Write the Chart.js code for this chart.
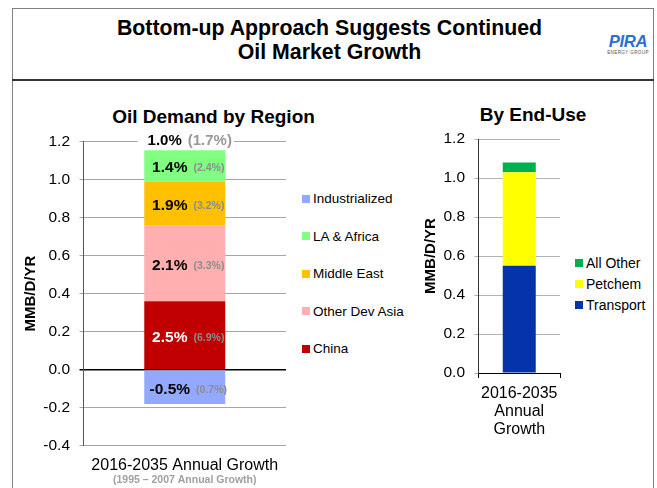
<!DOCTYPE html>
<html>
<head>
<meta charset="utf-8">
<script src="https://cdn.jsdelivr.net/npm/chart.js@4.4.1/dist/chart.umd.min.js"></script>
<style>
  body { margin: 0; background: #fff; font-family: 'Liberation Sans', Arial, sans-serif; width: 657px; height: 488px; overflow: hidden; position: relative; }
  .frame { position: absolute; left: 12px; top: 8px; width: 640px; height: 600px; border: 1px solid #808080; }
  .divider { position: absolute; left: 12px; top: 79px; width: 642px; border-top: 2px solid #333; }
  .mainTitle { position: absolute; left: 0; width: 659px; top: 15.7px; text-align: center; font-weight: bold; font-size: 21.3px; line-height: 24px; color: #000; }
  .txt { position: absolute; white-space: nowrap; transform: translateX(-50%); }
  .logo { position: absolute; left: 628px; top: 33.5px; transform: translateX(-50%); font-weight: bold; font-style: italic; font-size: 16.7px; line-height: 16.7px; color: #2b6fd6; letter-spacing: -0.3px; }
  .logoSub { position: absolute; left: 628px; top: 50px; transform: translateX(-50%); font-size: 4.6px; line-height: 5px; color: #555; letter-spacing: 0.35px; white-space: nowrap; }
  canvas { position: absolute; }
  .legBox { position: absolute; width: 8px; height: 8px; }
  .legTxt { position: absolute; white-space: nowrap; color: #000; }
</style>
</head>
<body>
<div class="frame"></div>
<div class="divider"></div>
<div class="mainTitle">Bottom-up Approach Suggests Continued<br>Oil Market Growth</div>
<div class="logo">PIRA</div>
<div class="logoSub">ENERGY GROUP</div>
<div class="txt" style="left:213.5px;top:106.5px;font-size:19px;line-height:19px;font-weight:bold;">Oil Demand by Region</div>
<div class="txt" style="left:533px;top:104.7px;font-size:19px;line-height:19px;font-weight:bold;">By End-Use</div>
<canvas id="regionChart" width="300" height="408" style="left:0;top:80px;"></canvas>
<canvas id="useChart" width="160" height="370" style="left:410px;top:80px;"></canvas>
<div id="legends"></div>
<script>
// oil demand growth by region, MMB/D per year
var regionCategory = ['2016-2035 Annual Growth'];
var regionNames = ['China', 'Other Dev Asia', 'Middle East', 'LA & Africa', 'Industrialized'];
var regionValues = [0.36, 0.40, 0.23, 0.17, -0.18];
var regionColors = ['#c00000', '#ffafaf', '#ffc000', '#80ff80', '#93a9ff'];
var regionGrowth = ['2.5%', '2.1%', '1.9%', '1.4%', '-0.5%'];
var regionHistGrowth = ['(6.9%)', '(3.3%)', '(3.2%)', '(2.4%)', '(0.7%)'];
var totalGrowth = '1.0%';
var totalHistGrowth = '(1.7%)';
var regionSubLabel = '(1995 \u2013 2007 Annual Growth)';

// same growth split by end use
var useCategory = [['2016-2035', 'Annual', 'Growth']];
var useNames = ['Transport', 'Petchem', 'All Other'];
var useValues = [0.55, 0.48, 0.05];
var useColors = ['#0433aa', '#ffff00', '#00b050'];

var axisTitle = 'MMB/D/YR';
var FONT = "'Liberation Sans', Arial, sans-serif";
Chart.defaults.font.family = FONT;
Chart.defaults.color = '#000';

// draws "main% (hist%)" pair centred on cx
function drawPair(ctx, cx, cy, main, hist, mainColor, mainSize, histSize, histColor, background) {
  ctx.font = 'bold ' + mainSize + 'px ' + FONT;
  var w1 = ctx.measureText(main).width;
  ctx.font = 'bold ' + histSize + 'px ' + FONT;
  var w2 = ctx.measureText(hist).width;
  var gap = 6;
  var x0 = cx - (w1 + gap + w2) / 2;
  if (background) {
    ctx.fillStyle = '#fff';
    ctx.fillRect(x0 - 10, cy - 9, w1 + gap + w2 + 12, 18);
  }
  ctx.fillStyle = mainColor;
  ctx.font = 'bold ' + mainSize + 'px ' + FONT;
  ctx.fillText(main, x0, cy);
  ctx.fillStyle = histColor;
  ctx.font = 'bold ' + histSize + 'px ' + FONT;
  ctx.fillText(hist, x0 + w1 + gap, cy);
}

var segmentLabels = {
  id: 'segmentLabels',
  afterDatasetsDraw: function(chart) {
    var ctx = chart.ctx;
    ctx.save();
    ctx.textBaseline = 'middle';
    ctx.textAlign = 'left';
    var topY = Infinity, barX = 0;
    chart.data.datasets.forEach(function(ds, i) {
      var bar = chart.getDatasetMeta(i).data[0];
      var cy = (bar.y + bar.base) / 2 + 2.5;
      drawPair(ctx, bar.x + 3.5, cy, regionGrowth[i], regionHistGrowth[i], i === 0 ? '#fff' : '#000', 15.5, 10.5, '#8c8c8c', false);
      if (ds.data[0] > 0) topY = Math.min(topY, bar.y);
      barX = bar.x;
    });
    drawPair(ctx, barX + 5, topY - 8, totalGrowth, totalHistGrowth, '#000', 15, 15, '#999999', true);
    ctx.restore();
  }
};

new Chart(document.getElementById('regionChart'), {
  type: 'bar',
  data: {
    labels: regionCategory,
    datasets: regionNames.map(function(n, i) {
      return { label: n, data: [regionValues[i]], backgroundColor: regionColors[i], barPercentage: 0.4, categoryPercentage: 1 };
    })
  },
  options: {
    responsive: false,
    animation: false,
    layout: { padding: { top: 61.7, right: 14, bottom: 0, left: 0 } },
    plugins: { legend: { display: false }, tooltip: { enabled: false } },
    scales: {
      x: {
        stacked: true,
        grid: { display: false, drawTicks: false },
        border: { display: false },
        ticks: { font: { size: 16 }, color: '#000', padding: 10.7 },
        title: { display: true, text: regionSubLabel, color: '#a0a0a0', font: { size: 10.5, weight: 'bold' }, padding: { top: 0, bottom: 1.7 } },
        afterFit: function(s) { s.height = 42.3; }
      },
      y: {
        stacked: true,
        min: -0.4,
        max: 1.2,
        ticks: { stepSize: 0.2, font: { size: 15.5 }, color: '#000', padding: 9.5, callback: function(v) { return v.toFixed(1); } },
        grid: {
          color: function(c) { return Math.abs(c.tick.value) < 1e-9 ? '#000' : '#a6a6a6'; },
          lineWidth: function(c) { return Math.abs(c.tick.value) < 1e-9 ? 1.5 : 1; },
          tickLength: 4
        },
        border: { color: '#555' },
        title: { display: true, text: axisTitle, color: '#000', font: { size: 15, weight: 'bold' }, padding: { top: 21.7, bottom: 0 } },
        afterFit: function(s) { s.width = 83.5; }
      }
    }
  },
  plugins: [segmentLabels]
});

new Chart(document.getElementById('useChart'), {
  type: 'bar',
  data: {
    labels: useCategory,
    datasets: useNames.map(function(n, i) {
      return { label: n, data: [useValues[i]], backgroundColor: useColors[i], barPercentage: 0.405, categoryPercentage: 1 };
    })
  },
  options: {
    responsive: false,
    animation: false,
    layout: { padding: { top: 59, right: 10, bottom: 0, left: 0 } },
    plugins: { legend: { display: false }, tooltip: { enabled: false } },
    scales: {
      x: {
        stacked: true,
        grid: { display: true, drawOnChartArea: false, offset: true, tickLength: 5, color: '#000' },
        border: { color: '#000' },
        ticks: { font: { size: 16, lineHeight: 1.125 }, color: '#000', padding: 6.3 },
        afterFit: function(s) { s.height = 77; }
      },
      y: {
        stacked: true,
        min: 0,
        max: 1.2,
        ticks: { stepSize: 0.2, font: { size: 15.5 }, color: '#000', padding: 9.5, callback: function(v) { return v.toFixed(1); } },
        grid: { color: '#b3b3b3', tickLength: 4 },
        border: { color: '#333' },
        title: { display: true, text: axisTitle, color: '#000', font: { size: 15, weight: 'bold' }, padding: { top: 11.7, bottom: 0 } },
        afterFit: function(s) { s.width = 68.5; }
      }
    }
  }
});

// legends, listed top-down in reverse of the stacking order
function buildLegend(names, colors, boxX, textX, firstY, step, size) {
  var holder = document.getElementById('legends');
  for (var k = names.length - 1, row = 0; k >= 0; k--, row++) {
    var y = firstY + row * step;
    var box = document.createElement('div');
    box.className = 'legBox';
    box.style.left = boxX + 'px';
    box.style.top = (y - 4) + 'px';
    box.style.background = colors[k];
    holder.appendChild(box);
    var t = document.createElement('div');
    t.className = 'legTxt';
    t.style.left = textX + 'px';
    t.style.top = (y - 0.4885 * size) + 'px';
    t.style.fontSize = size + 'px';
    t.style.lineHeight = size + 'px';
    t.textContent = names[k];
    holder.appendChild(t);
  }
}
buildLegend(regionNames, regionColors, 302, 313, 198.6, 37.6, 13.5);
buildLegend(useNames, useColors, 575, 586, 263.3, 21, 14);
</script>
</body>
</html>
